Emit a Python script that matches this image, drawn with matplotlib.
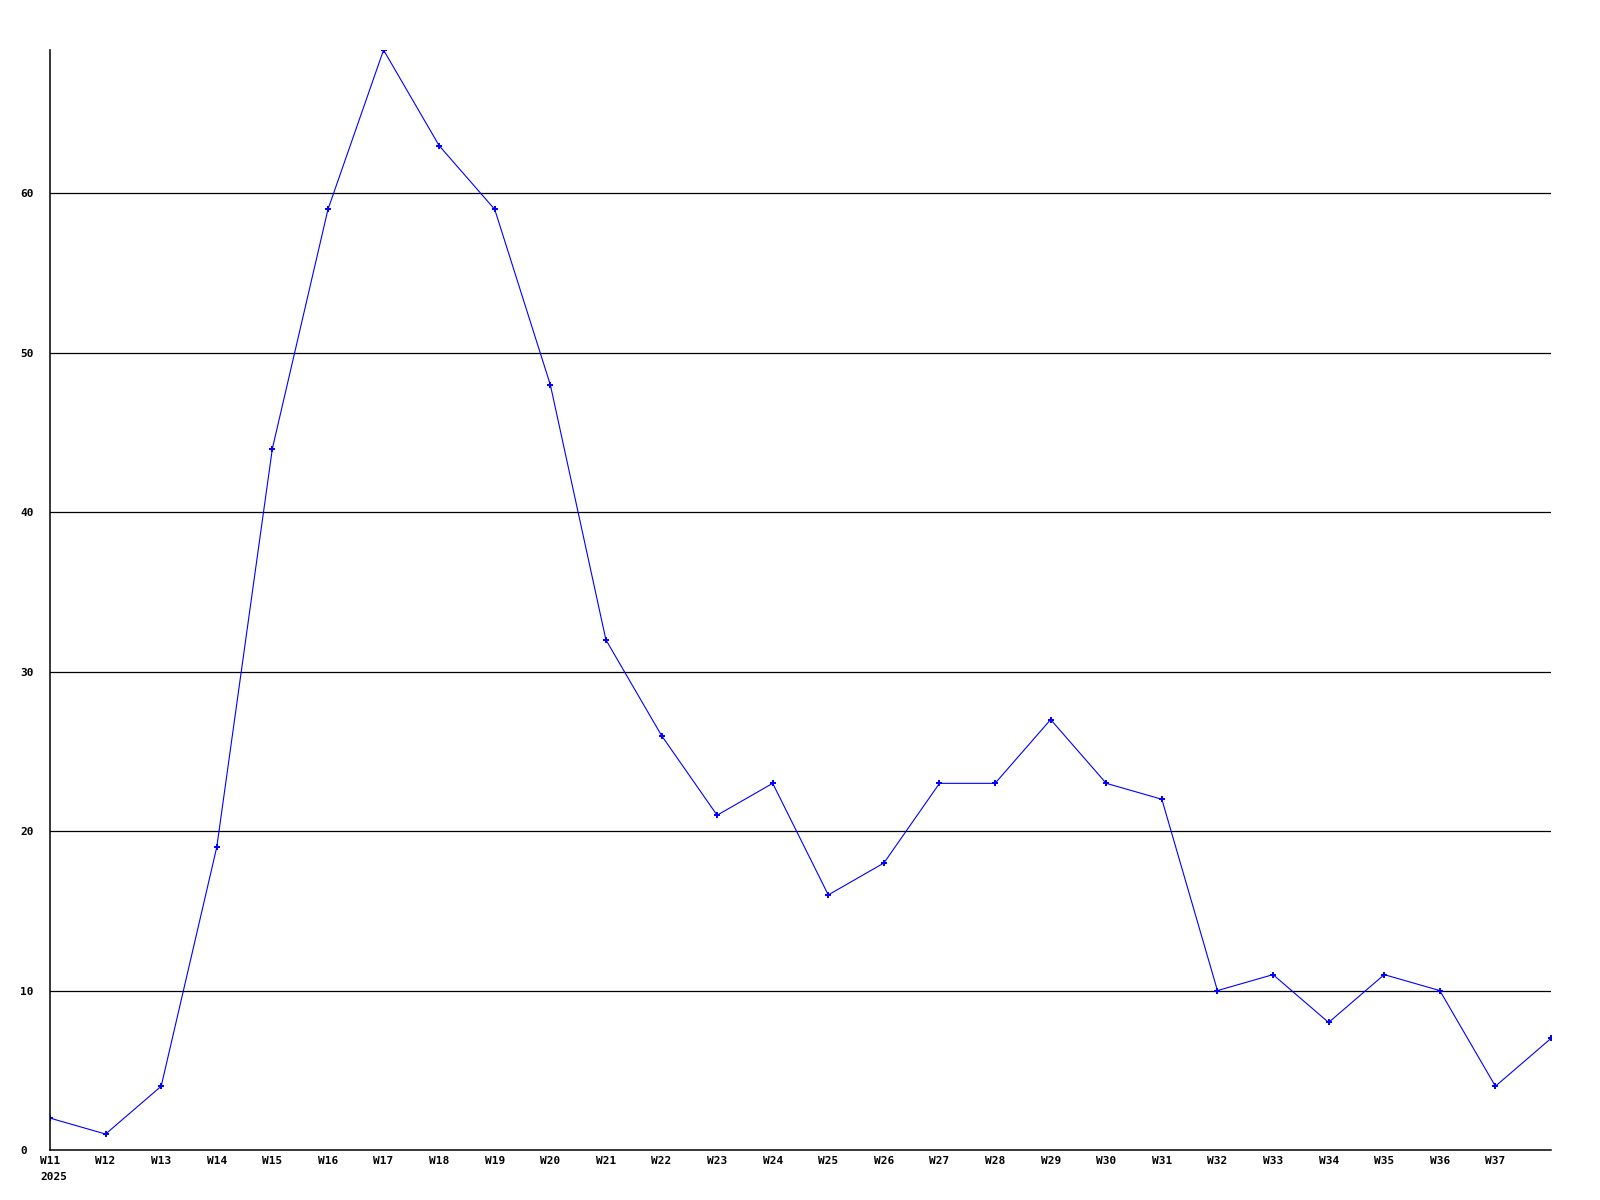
import matplotlib
matplotlib.use("Agg")
import matplotlib.pyplot as plt
from matplotlib.transforms import blended_transform_factory

weeks = ["W11", "W12", "W13", "W14", "W15", "W16", "W17", "W18", "W19", "W20",
         "W21", "W22", "W23", "W24", "W25", "W26", "W27", "W28", "W29", "W30",
         "W31", "W32", "W33", "W34", "W35", "W36", "W37", "W38"]
values = [2, 1, 4, 19, 44, 59, 69, 63, 59, 48,
          32, 26, 21, 23, 16, 18, 23, 23, 27, 23,
          22, 10, 11, 8, 11, 10, 4, 7]
year_label = "2025"
y_ticks = [0, 10, 20, 30, 40, 50, 60]
grid_values = [10, 20, 30, 40, 50, 60]

W, H = 1600, 1200
fig = plt.figure(figsize=(16, 12), dpi=100)
left, right, top, bottom = 50, 1551, 50, 1150
ax = fig.add_axes([left / W, (H - bottom) / H, (right - left) / W, (bottom - top) / H])

x = list(range(len(weeks)))
for g in grid_values:
    ax.axhline(g, color="black", lw=0.9, zorder=1)
ax.plot(x, values, color="#0000ff", lw=0.8, marker="+", markersize=4.5,
        markeredgewidth=1.4, zorder=2)

ax.set_xlim(0, len(weeks) - 1)
ax.set_ylim(0, 69)

font = dict(family="DejaVu Sans Mono", weight="bold", size=8)

ax.set_yticks(y_ticks)
ax.set_yticklabels([str(v) for v in y_ticks], ha="left", **font)
ax.tick_params(axis="y", length=0, pad=21.6)

# x labels: all but the last week
ax.set_xticks(x[:-1])
ax.set_xticklabels(weeks[:-1], **font)
ax.tick_params(axis="x", length=0, pad=4)

trans = blended_transform_factory(ax.transData, fig.transFigure)
step_px = (right - left) / (len(weeks) - 1)
ax.text(-10 / step_px, (H - 1177) / H, year_label, transform=trans,
        ha="left", va="center", **font)

for s in ["top", "right"]:
    ax.spines[s].set_visible(False)
ax.spines["left"].set_linewidth(1.1)
ax.spines["bottom"].set_linewidth(1.1)
ax.spines["left"].set_zorder(3)

fig.savefig("out.png", dpi=100, facecolor="white")
